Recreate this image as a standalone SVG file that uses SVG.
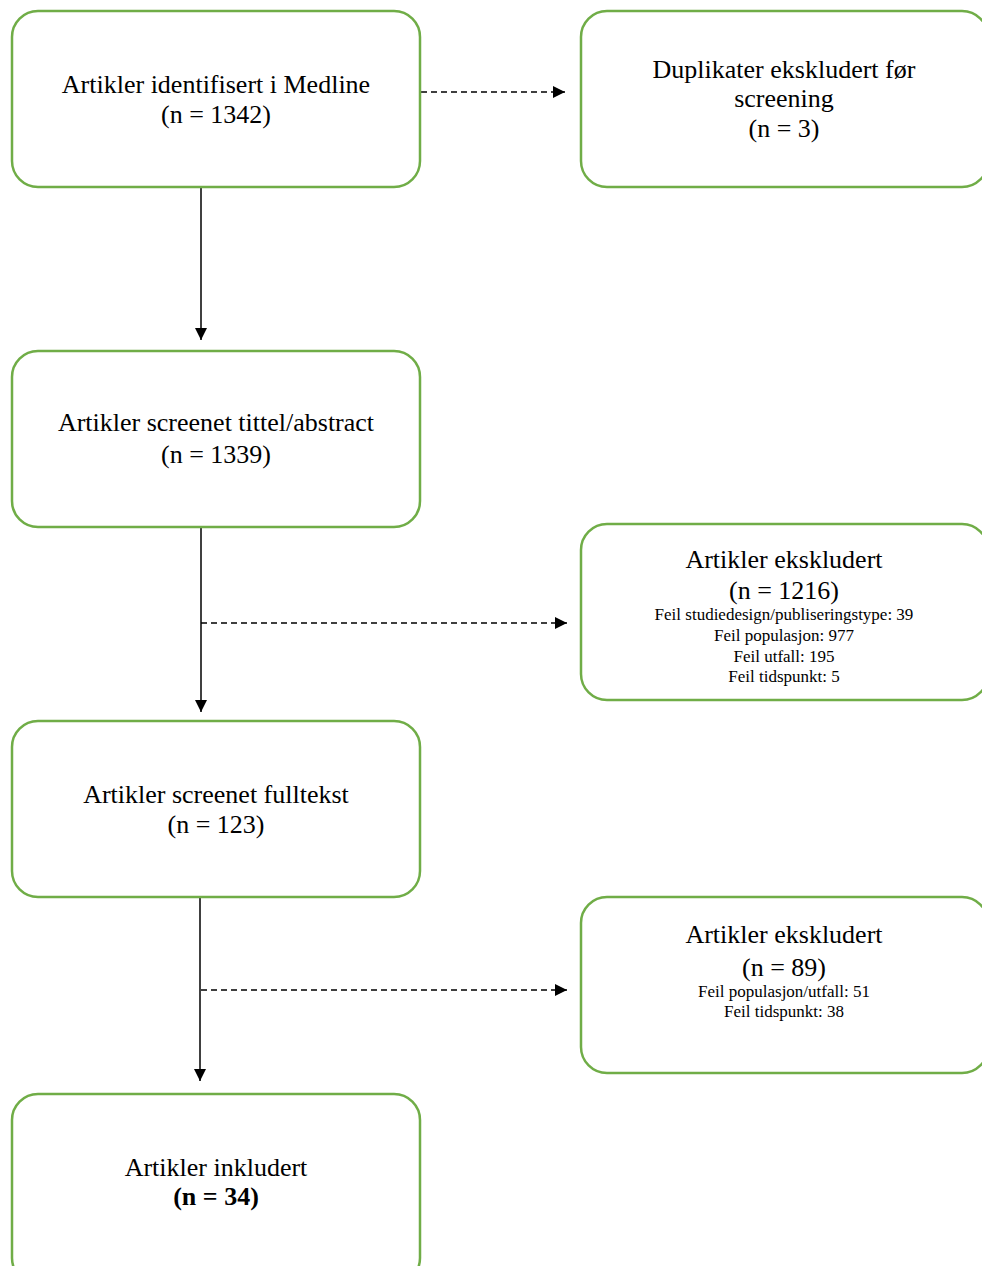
<svg xmlns="http://www.w3.org/2000/svg" width="982" height="1266" viewBox="0 0 982 1266">
<style>
.box{fill:#fff;stroke:#70AD47;stroke-width:2.5}
.t{font-family:"Liberation Serif","Times New Roman",serif;font-size:26px;fill:#000;text-anchor:middle}
.s{font-family:"Liberation Serif","Times New Roman",serif;font-size:17px;fill:#000;text-anchor:middle}
.b{font-weight:bold}
.ln{stroke:#000;stroke-width:1.5;fill:none}
.dl{stroke:#000;stroke-width:1.5;fill:none;stroke-dasharray:6 4}
</style>
<defs>
<marker id="ah" viewBox="0 0 12 12" refX="12" refY="6" markerWidth="12" markerHeight="12" markerUnits="userSpaceOnUse" orient="auto">
<path d="M0,0 L12,6 L0,12 z" fill="#000"/>
</marker>
</defs>
<rect width="982" height="1266" fill="#fff"/>
<g id="connectors">
<line class="dl" x1="421" y1="92" x2="565" y2="92" marker-end="url(#ah)"/>
<line class="ln" x1="201" y1="187" x2="201" y2="340" marker-end="url(#ah)"/>
<line class="ln" x1="201" y1="527" x2="201" y2="712" marker-end="url(#ah)"/>
<line class="dl" x1="201" y1="623" x2="567" y2="623" marker-end="url(#ah)"/>
<line class="ln" x1="200" y1="897" x2="200" y2="1081" marker-end="url(#ah)"/>
<line class="dl" x1="201" y1="990" x2="567" y2="990" marker-end="url(#ah)"/>
</g>
<g id="n1">
<rect class="box" x="12" y="11" width="408" height="176" rx="26"/>
<text class="t" x="216" y="93">Artikler identifisert i Medline</text>
<text class="t" x="216" y="123">(n = 1342)</text>
</g>
<g id="n2">
<rect class="box" x="581" y="11" width="407" height="176" rx="26"/>
<text class="t" x="784" y="78">Duplikater ekskludert før</text>
<text class="t" x="784" y="107">screening</text>
<text class="t" x="784" y="137">(n = 3)</text>
</g>
<g id="n3">
<rect class="box" x="12" y="351" width="408" height="176" rx="26"/>
<text class="t" x="216" y="431">Artikler screenet tittel/abstract</text>
<text class="t" x="216" y="463">(n = 1339)</text>
</g>
<g id="n4">
<rect class="box" x="581" y="524" width="407" height="176" rx="26"/>
<text class="t" x="784" y="568">Artikler ekskludert</text>
<text class="t" x="784" y="599">(n = 1216)</text>
<text class="s" x="784" y="620">Feil studiedesign/publiseringstype: 39</text>
<text class="s" x="784" y="641">Feil populasjon: 977</text>
<text class="s" x="784" y="662">Feil utfall: 195</text>
<text class="s" x="784" y="682">Feil tidspunkt: 5</text>
</g>
<g id="n5">
<rect class="box" x="12" y="721" width="408" height="176" rx="26"/>
<text class="t" x="216" y="803">Artikler screenet fulltekst</text>
<text class="t" x="216" y="833">(n = 123)</text>
</g>
<g id="n6">
<rect class="box" x="581" y="897" width="407" height="176" rx="26"/>
<text class="t" x="784" y="943">Artikler ekskludert</text>
<text class="t" x="784" y="976">(n = 89)</text>
<text class="s" x="784" y="997">Feil populasjon/utfall: 51</text>
<text class="s" x="784" y="1017">Feil tidspunkt: 38</text>
</g>
<g id="n7">
<rect class="box" x="12" y="1094" width="408" height="190" rx="26"/>
<text class="t" x="216" y="1176">Artikler inkludert</text>
<text class="t b" x="216" y="1205">(n = 34)</text>
</g>
</svg>
